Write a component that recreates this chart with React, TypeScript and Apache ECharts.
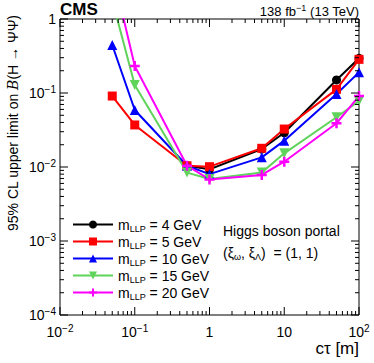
import React, { useEffect, useRef } from "react";
import * as echarts from "echarts";

const ctau = [0.05, 0.1, 0.5, 1, 5, 10, 50, 100];
const masses = [4, 5, 10, 15, 20];
const m4 = [null, null, 0.0104, 0.0093, 0.0175, 0.029, 0.15, 0.294];
const m5 = [0.091, 0.037, 0.0104, 0.0101, 0.0179, 0.0326, 0.112, 0.285];
const m10 = [0.445, 0.059, 0.0104, 0.008, 0.0135, 0.0227, 0.097, 0.19];
const m15 = [1.8, 0.128, 0.0084, 0.0069, 0.0084, 0.0153, 0.047, 0.078];
const m20 = [4.5, 0.232, 0.0104, 0.0068, 0.0078, 0.0118, 0.039, 0.091];
const xDecades = [-2, -1, 0, 1, 2];
const yDecades = [-4, -3, -2, -1, 0];

const FONT = "Liberation Sans";

const PLUS = "path://M3,0H5V3H8V5H5V8H3V5H0V3H3Z";

function expLabel(v: number) {
  const e = Math.round(Math.log10(v));
  if (e === 0) return "{b|1}";
  if (e === 1) return "{b|10}";
  const s = e < 0 ? "\u2212" + -e : String(e);
  return "{b|10}{p|" + s + "}";
}

const tickRich = {
  b: { fontFamily: FONT, fontSize: 14, color: "#000", lineHeight: 17 },
  p: { fontFamily: FONT, fontSize: 10, color: "#000", lineHeight: 9, verticalAlign: "top" },
};

function buildTicks(decades: number[]) {
  const out: { v: number; major: boolean }[] = [];
  for (let i = 0; i < decades.length; i++) {
    const base = Math.pow(10, decades[i]);
    out.push({ v: base, major: true });
    if (i < decades.length - 1) {
      for (let k = 2; k <= 9; k++) out.push({ v: k * base, major: false });
    }
  }
  return out;
}

export default function App() {
  const ref = useRef<HTMLDivElement>(null);
  useEffect(() => {
    if (!ref.current) return;
    const chart = echarts.init(ref.current, null, { renderer: "svg" });
    const xMin = 0.01, xMax = 100, yMin = 1e-4, yMax = 1;
    const xt = buildTicks(xDecades);
    const yt = buildTicks(yDecades);

    const defs = [
      { m: masses[0], d: m4, color: "#000000", symbol: "circle", size: 9, rot: 0 },
      { m: masses[1], d: m5, color: "#ff0000", symbol: "rect", size: 9, rot: 0 },
      { m: masses[2], d: m10, color: "#0000ff", symbol: "triangle", size: 10, rot: 0 },
      { m: masses[3], d: m15, color: "#5fd35a", symbol: "triangle", size: 10, rot: 180 },
      { m: masses[4], d: m20, color: "#ff00ff", symbol: PLUS, size: 10, rot: 0 },
    ];

    const lineSeries = defs.map((s) => ({
      type: "line",
      name: "m" + s.m,
      data: ctau
        .map((x, i) => (s.d[i] == null ? null : [x, s.d[i]]))
        .filter((p) => p !== null),
      symbol: s.symbol,
      symbolSize: s.size,
      symbolRotate: s.rot,
      showAllSymbol: true,
      clip: true,
      lineStyle: { color: s.color, width: 2 },
      itemStyle: { color: s.color },
      z: 5,
    }));

    const tickSeries = {
      type: "custom",
      silent: true,
      clip: false,
      z: 10,
      data: [
        ...xt.map((t) => [t.v, yMin, 0, t.major ? 1 : 0]),
        ...yt.map((t) => [xMin, t.v, 1, t.major ? 1 : 0]),
      ],
      renderItem: (params: any, api: any) => {
        const v = api.value(0);
        const w = api.value(1);
        const isY = api.value(2) === 1;
        const len = api.value(3) === 1 ? 8 : 4;
        const style = { stroke: "#000", lineWidth: 1 };
        if (!isY) {
          const b = api.coord([v, yMin]);
          const t = api.coord([v, yMax]);
          return {
            type: "group",
            children: [
              { type: "line", shape: { x1: b[0], y1: b[1], x2: b[0], y2: b[1] - len }, style },
              { type: "line", shape: { x1: t[0], y1: t[1], x2: t[0], y2: t[1] + len }, style },
            ],
          };
        }
        const l = api.coord([xMin, w]);
        const r = api.coord([xMax, w]);
        return {
          type: "group",
          children: [
            { type: "line", shape: { x1: l[0], y1: l[1], x2: l[0] + len, y2: l[1] }, style },
            { type: "line", shape: { x1: r[0], y1: r[1], x2: r[0] - len, y2: r[1] }, style },
          ],
        };
      },
    };

    const legendRich = {
      m: { fontFamily: FONT, fontSize: 14, color: "#000", lineHeight: 17 },
      s: { fontFamily: FONT, fontSize: 9, color: "#000", lineHeight: 9, verticalAlign: "bottom" },
    };

    chart.setOption({
      animation: false,
      backgroundColor: "#fff",
      grid: {
        left: 60,
        right: 15,
        top: 19,
        bottom: 48,
        show: true,
        borderColor: "#000",
        borderWidth: 1,
        backgroundColor: "transparent",
      },
      xAxis: {
        type: "log",
        logBase: 10,
        min: xMin,
        max: xMax,
        axisLine: { show: false },
        axisTick: { show: false },
        splitLine: { show: false },
        axisLabel: { formatter: expLabel, rich: tickRich, margin: 8 },
      },
      yAxis: {
        type: "log",
        logBase: 10,
        min: yMin,
        max: yMax,
        axisLine: { show: false },
        axisTick: { show: false },
        splitLine: { show: false },
        axisLabel: { formatter: expLabel, rich: tickRich, margin: 4 },
      },
      legend: {
        orient: "vertical",
        left: 72,
        top: 216,
        itemWidth: 40,
        itemHeight: 10,
        itemGap: 0,
        padding: 0,
        selectedMode: false,
        data: defs.map((s) => "m" + s.m),
        formatter: (name: string) =>
          "{m|m}{s|LLP}{m| = " + name.slice(1) + " GeV}",
        textStyle: { rich: legendRich, lineHeight: 17 },
      },
      graphic: [
        {
          type: "text",
          x: 60,
          y: 9,
          style: {
            text: "CMS",
            font: "bold 17px " + FONT,
            fill: "#000",
            align: "left",
            verticalAlign: "middle",
          },
        },
        {
          type: "text",
          x: 359,
          y: 11,
          style: {
            text: "{n|138 fb}{p|\u22121}{n| (13 TeV)}",
            align: "right",
            verticalAlign: "middle",
            rich: {
              n: { fontFamily: FONT, fontSize: 13, fill: "#000", lineHeight: 16 },
              p: { fontFamily: FONT, fontSize: 9, fill: "#000", lineHeight: 8, verticalAlign: "top" },
            },
          },
        },
        {
          type: "text",
          x: 359,
          y: 348,
          style: {
            text: "c\u03c4 [m]",
            font: "17px " + FONT,
            fill: "#000",
            align: "right",
            verticalAlign: "middle",
          },
        },
        {
          type: "text",
          x: 13,
          y: 15,
          rotation: Math.PI / 2,
          style: {
            text: "{n|95% CL upper limit on }{i|B}{n|(H \u2192 \u03a8\u03a8)}",
            align: "right",
            verticalAlign: "middle",
            rich: {
              n: { fontFamily: FONT, fontSize: 14, fill: "#000", lineHeight: 17 },
              i: { fontFamily: "DejaVu Serif", fontStyle: "italic", fontSize: 14, fill: "#000", lineHeight: 17 },
            },
          },
        },
        {
          type: "text",
          x: 223,
          y: 231,
          style: {
            text: "Higgs boson portal",
            font: "14px " + FONT,
            fill: "#000",
            align: "left",
            verticalAlign: "middle",
          },
        },
        {
          type: "text",
          x: 223,
          y: 253,
          style: {
            text: "{n|(\u03be}{s|\u03c9}{n|, \u03be}{s|\u039b}{n|)  = (1, 1)}",
            align: "left",
            verticalAlign: "middle",
            rich: {
              n: { fontFamily: FONT, fontSize: 14, fill: "#000", lineHeight: 17 },
              s: { fontFamily: FONT, fontSize: 9, fill: "#000", lineHeight: 9, verticalAlign: "bottom" },
            },
          },
        },
      ],
      series: [...lineSeries, tickSeries],
    });
    return () => chart.dispose();
  }, []);
  return (
    <div
      ref={ref}
      style={{ position: "absolute", left: 0, top: 0, width: 374, height: 363 }}
    />
  );
}
